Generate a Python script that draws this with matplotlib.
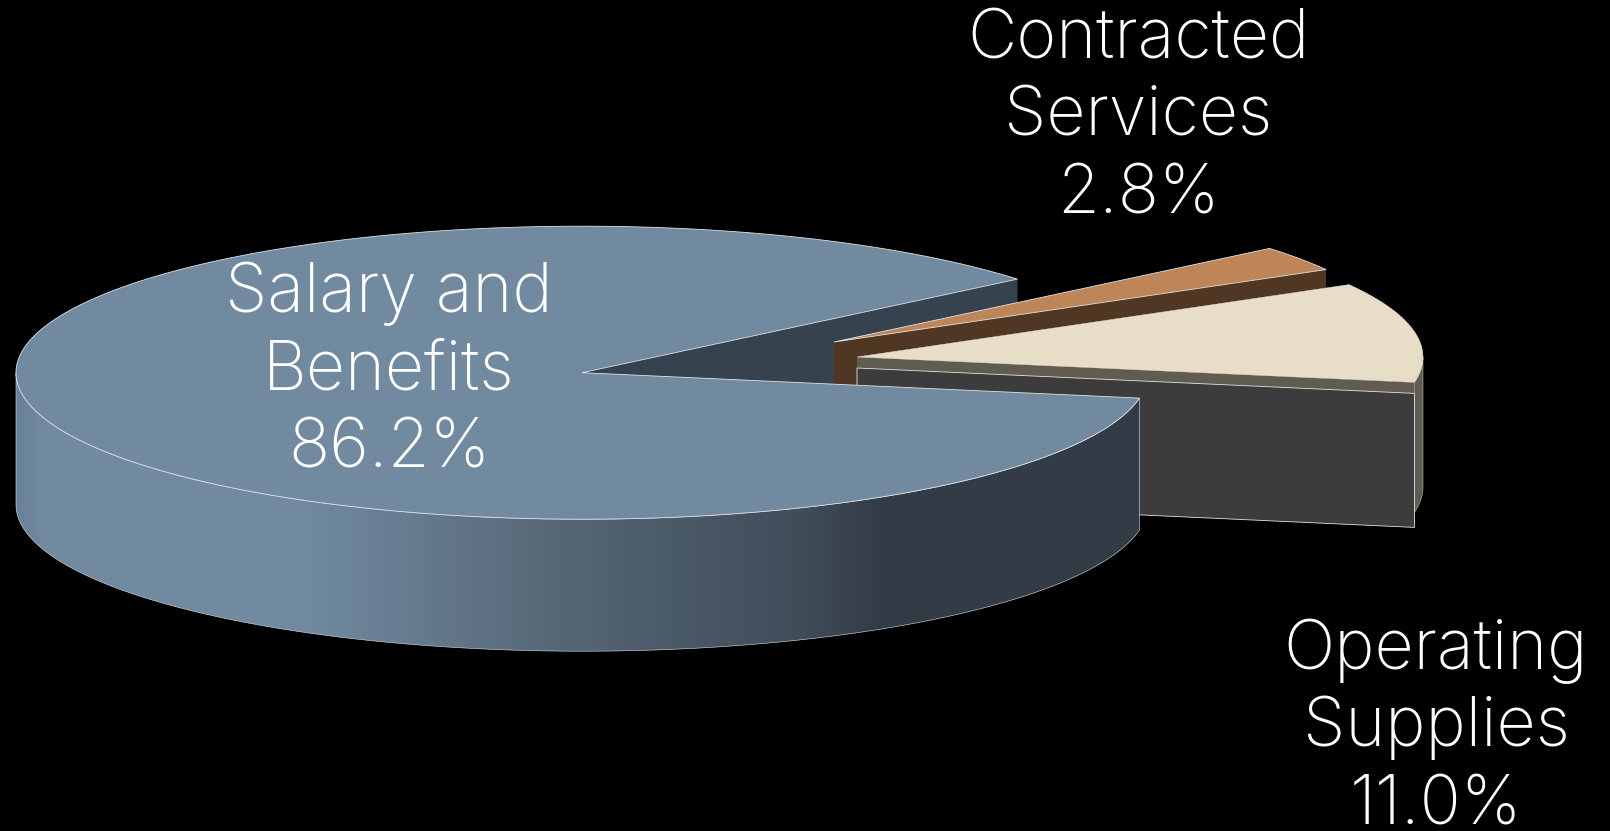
import numpy as np
import matplotlib
matplotlib.use("Agg")
import matplotlib.pyplot as plt
from matplotlib.patches import Polygon
from matplotlib.colors import LinearSegmentedColormap

categories = ["Salary and\nBenefits", "Operating\nSupplies", "Contracted\nServices"]
values = [86.2, 11.0, 2.8]
pct_labels = ["86.2%", "11.0%", "2.8%"]

W, H = 1610, 831
RX, RY, DEPTH = 566, 146.5, 132
START = 39.7
centers = [(582, 372.7), (857, 357), (834, 342)]
label_pos = [(389, 311.7), (1436, 668.5), (1138, 58)]
LINE = 78
EDGE = "#dfe3e6"
FONT = dict(family="Inter", weight="light", color="white", fontsize=49, ha="center", va="baseline")

fig = plt.figure(figsize=(W / 100, H / 100), dpi=100, facecolor="black")
ax = fig.add_axes([0, 0, 1, 1])
ax.set_xlim(0, W)
ax.set_ylim(H, 0)
ax.axis("off")

a = START
spans = []
for v in values:
    spans.append((a, a + v / sum(values) * 360))
    a = spans[-1][1]


def arc(c, a0, a1, dy=0):
    t = np.radians(np.linspace(a0, a1, 300))
    return np.column_stack([c[0] + RX * np.cos(t), c[1] - RY * np.sin(t) + dy])


def poly(pts, fc, z, ec="none", lw=0.0):
    p = Polygon(pts, closed=True, facecolor=fc, edgecolor=ec, linewidth=lw, zorder=z, joinstyle="miter")
    ax.add_patch(p)
    return p


def radial_face(c, ang, dy0=0, depth=DEPTH, color="#000000", z=1, ec="none", lw=0.0):
    o = arc(c, ang, ang)[0]
    pts = [(c[0], c[1] + dy0), (o[0], o[1] + dy0), (o[0], o[1] + dy0 + depth), (c[0], c[1] + dy0 + depth)]
    return poly(pts, color, z, ec, lw)


def wedge_top(c, a0, a1, fc, z, lw=0.6):
    pts = np.vstack([[c], arc(c, a0, a1)])
    poly(pts, fc, z, EDGE, lw)


c0 = centers[0]
a0, a1 = spans[0]
radial_face(c0, a0, color="#36434F", z=1)

c2 = centers[2]
b0, b1 = spans[2]
radial_face(c2, b0, color="#503723", z=2)
wedge_top(c2, b0, b1, "#BD8558", 3)

c1 = centers[1]
d0, d1 = spans[1]
d0n = d0 - 360
d1n = d1 - 360
radial_face(c1, d0n, color="#605C50", z=4)
rim = np.vstack([arc(c1, d0n, 0), arc(c1, 0, d0n, dy=DEPTH - 2)])
poly(rim, "#605C50", 4, EDGE, 0.3)
radial_face(c1, d0n, dy0=11, depth=DEPTH + 2, color="#3C3C3C", z=5, ec=EDGE, lw=0.6)
wedge_top(c1, d0n, d1n, "#E8DDC6", 6, lw=0.3)

rim0 = np.vstack([arc(c0, 180, a1), arc(c0, a1, 180, dy=DEPTH)])
rp = poly(rim0, "none", 7)
stops = [(16, "#6a8298"), (45, "#718AA0"), (306, "#718AA0"), (561, "#566675"), (800, "#404D59"), (880, "#333C46"), (1139, "#333C46")]
x0, x1 = stops[0][0], stops[-1][0]
cmap = LinearSegmentedColormap.from_list("rim", [((s - x0) / (x1 - x0), col) for s, col in stops])
im = ax.imshow(np.linspace(0, 1, 1024)[None, :], cmap=cmap, extent=(x0, x1, 680, 360), aspect="auto", zorder=7)
im.set_clip_path(rp)
ax.set_xlim(0, W)
ax.set_ylim(H, 0)
poly(rim0, "none", 8, EDGE, 0.4)
wedge_top(c0, a0, a1, "#728AA0", 9)

for name, pct, (x, y) in zip(categories, pct_labels, label_pos):
    lines = name.split("\n") + [pct]
    for i, t in enumerate(lines):
        ax.text(x, y + i * LINE, t, zorder=12, clip_on=False, **FONT)

fig.savefig("out.png", dpi=100, facecolor="black")
